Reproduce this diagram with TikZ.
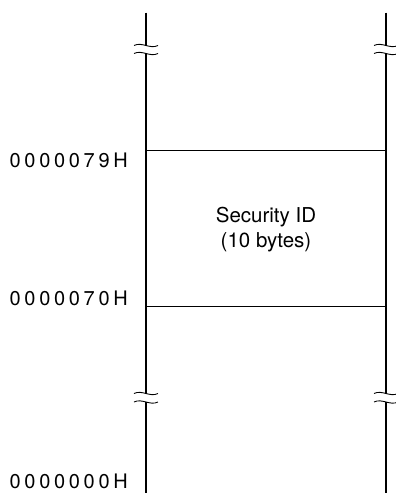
\documentclass[tikz,border=0pt]{standalone}
\usepackage{fontspec}
\setmainfont{TeX Gyre Heros}
\newcommand\lsp{\kern3.7pt\relax}
\begin{document}
\begin{tikzpicture}[x=1pt,y=-1pt,
  rail/.style={line width=1.8pt},
  rule/.style={line width=0.9pt},
  wave/.style={line width=0.9pt},
  addr/.style={anchor=base east,inner sep=0pt,font=\fontsize{20}{22}\selectfont},
  body/.style={anchor=base,inner sep=0pt,font=\fontsize{20.5}{23}\selectfont}]
\useasboundingbox (0,0) rectangle (396,493);
% left rail
\coordinate (L0) at (146,12.5);
\coordinate (L1) at (146,45.5);
\coordinate (L2) at (146,53.5);
\coordinate (L3) at (146,393.5);
\coordinate (L4) at (146,402);
\coordinate (L5) at (146,493);
% right rail
\coordinate (R0) at (386,12.5);
\coordinate (R1) at (386,45.5);
\coordinate (R2) at (386,53.5);
\coordinate (R3) at (386,393.5);
\coordinate (R4) at (386,402);
\coordinate (R5) at (386,493);
\draw[rail] (L0) -- (L1) (L2) -- (L3) (L4) -- (L5);
\draw[rail] (R0) -- (R1) (R2) -- (R3) (R4) -- (R5);
% break marks
\foreach \p in {L1,L2,L3,L4,R1,R2,R3,R4}{
  \draw[wave] ([xshift=-12pt]\p) .. controls ([xshift=-4pt,yshift=4pt]\p) and ([xshift=4pt,yshift=-4pt]\p) .. ([xshift=12pt]\p);
}
% region boundaries
\coordinate (A1) at (146,150);
\coordinate (B1) at (386,150);
\coordinate (A2) at (146,306.5);
\coordinate (B2) at (386,306.5);
\draw[rule] (A1) -- (B1);
\draw[rule] (A2) -- (B2);
% text
\node[body] (t1) at (266,222.5) {Security ID};
\node[body] (t2) at (266,247) {(10 bytes)};
\node[addr] (a79) at (128,167.5) {0\lsp0\lsp0\lsp0\lsp0\lsp7\lsp9\lsp H};
\node[addr] (a70) at (128,305.5) {0\lsp0\lsp0\lsp0\lsp0\lsp7\lsp0\lsp H};
\node[addr] (a00) at (128,488) {0\lsp0\lsp0\lsp0\lsp0\lsp0\lsp0\lsp H};
\end{tikzpicture}
\end{document}
